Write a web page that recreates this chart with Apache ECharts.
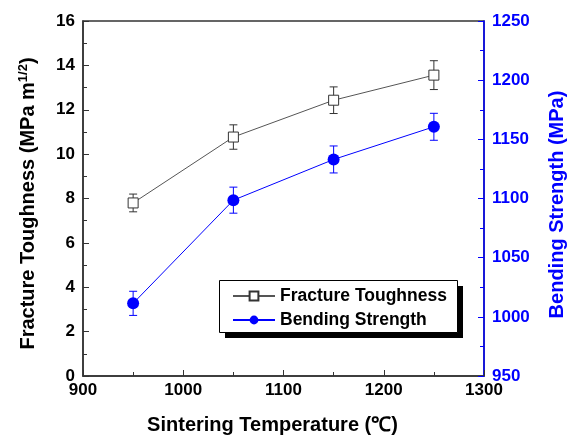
<!DOCTYPE html>
<html>
<head>
<meta charset="utf-8">
<script src="https://cdn.jsdelivr.net/npm/echarts@6/dist/echarts.min.js"></script>
<style>
html,body{margin:0;padding:0;background:#fff;}
#main{width:569px;height:438px;}
</style>
</head>
<body>
<div id="main"></div>
<script>
// sintering temperature (℃)
var temps = [950, 1050, 1150, 1250];
// fracture toughness (MPa m^1/2) and its error
var toughness = [7.8, 10.77, 12.43, 13.56];
var toughErr = [0.4, 0.55, 0.6, 0.65];
// bending strength (MPa) and its error
var strength = [1011.4, 1098.6, 1133, 1160.6];
var strengthErr = [10.2, 11, 11.4, 11.4];

var chart = echarts.init(document.getElementById('main'));

function pairs(xs, ys) {
    return xs.map(function (x, i) { return [x, ys[i]]; });
}
function errData(xs, ys, es) {
    return xs.map(function (x, i) { return [x, ys[i] - es[i], ys[i] + es[i]]; });
}
function errBar(color) {
    return function (params, api) {
        var top = api.coord([api.value(0), api.value(2)]);
        var bot = api.coord([api.value(0), api.value(1)]);
        var w = 4;
        var st = { stroke: color, lineWidth: 1 };
        return {
            type: 'group',
            children: [
                { type: 'line', shape: { x1: top[0], y1: top[1], x2: bot[0], y2: bot[1] }, style: st },
                { type: 'line', shape: { x1: top[0] - w, y1: top[1], x2: top[0] + w, y2: top[1] }, style: st },
                { type: 'line', shape: { x1: bot[0] - w, y1: bot[1], x2: bot[0] + w, y2: bot[1] }, style: st }
            ]
        };
    };
}
function plain(v) { return String(v); }

var font = 'Liberation Sans, Arial, sans-serif';
var blue = '#0000ff';

chart.setOption({
    animation: false,
    grid: {
        left: 83, right: 85, top: 21, bottom: 62,
        outerBoundsMode: 'none',
        show: true, borderColor: '#333', borderWidth: 1.5
    },
    // legend frame with the solid drop shadow
    graphic: [
        { type: 'rect', left: 225, top: 286, shape: { width: 238, height: 52 }, style: { fill: '#000' }, z: 5 },
        { type: 'rect', left: 219, top: 280, shape: { width: 238, height: 52 }, style: { fill: '#fff', stroke: '#000', lineWidth: 1 }, z: 6 }
    ],
    legend: {
        left: 232, top: 287,
        orient: 'vertical',
        itemWidth: 42, itemHeight: 11, itemGap: 6,
        padding: 0,
        z: 10,
        textStyle: { fontFamily: font, fontWeight: 'bold', fontSize: 17.5, color: '#000' },
        data: ['Fracture Toughness', 'Bending Strength']
    },
    xAxis: {
        type: 'value', min: 900, max: 1300, interval: 100,
        name: 'Sintering Temperature (℃)',
        nameLocation: 'middle', nameGap: 39,
        nameTextStyle: { fontFamily: font, fontWeight: 'bold', fontSize: 20, color: '#000', padding: [0, 22, 0, 0] },
        axisLine: { lineStyle: { color: '#333', width: 1.5 } },
        axisTick: { inside: true, length: 6, lineStyle: { color: '#333' } },
        minorTick: { show: true, splitNumber: 2, length: 4, lineStyle: { color: '#333' } },
        splitLine: { show: false },
        axisLabel: { fontFamily: font, fontWeight: 'bold', fontSize: 17, color: '#000', margin: 6, formatter: plain }
    },
    yAxis: [{
        type: 'value', min: 0, max: 16, interval: 2,
        name: '{a|Fracture Toughness (MPa m}{s|1/2}{a|)}',
        nameLocation: 'middle', nameGap: 43, nameRotate: 90,
        nameTextStyle: {
            padding: [0, 10, 0, 0],
            rich: {
                a: { fontFamily: font, fontWeight: 'bold', fontSize: 20, color: '#000' },
                s: { fontFamily: font, fontWeight: 'bold', fontSize: 13, color: '#000', verticalAlign: 'top', padding: [0, 0, 10, 0] }
            }
        },
        axisLine: { show: true, lineStyle: { color: '#333', width: 1.5 } },
        axisTick: { show: true, inside: true, length: 6, lineStyle: { color: '#333' } },
        minorTick: { show: true, splitNumber: 2, length: 4, lineStyle: { color: '#333' } },
        splitLine: { show: false },
        axisLabel: { fontFamily: font, fontWeight: 'bold', fontSize: 17, color: '#000', margin: 8, formatter: plain }
    }, {
        type: 'value', min: 950, max: 1250, interval: 50, position: 'right',
        name: 'Bending Strength (MPa)',
        nameLocation: 'middle', nameGap: 63, nameRotate: 90,
        nameTextStyle: { fontFamily: font, fontWeight: 'bold', fontSize: 20, color: blue, padding: [0, 12, 0, 0] },
        axisLine: { show: true, lineStyle: { color: blue, width: 1.5 } },
        axisTick: { show: true, inside: true, length: 6, lineStyle: { color: blue } },
        minorTick: { show: true, splitNumber: 2, length: 4, lineStyle: { color: blue } },
        splitLine: { show: false },
        axisLabel: { fontFamily: font, fontWeight: 'bold', fontSize: 17, color: blue, margin: 8, formatter: plain }
    }],
    series: [{
        name: 'Fracture Toughness', type: 'line', yAxisIndex: 0,
        data: pairs(temps, toughness),
        symbol: 'rect', symbolSize: 10,
        itemStyle: { color: '#fff', borderColor: '#333', borderWidth: 1 },
        lineStyle: { color: '#555', width: 1 },
        z: 3
    }, {
        name: 'Bending Strength', type: 'line', yAxisIndex: 1,
        data: pairs(temps, strength),
        symbol: 'circle', symbolSize: 12,
        itemStyle: { color: blue },
        lineStyle: { color: blue, width: 1 },
        z: 3
    }, {
        type: 'custom', yAxisIndex: 0, z: 2, silent: true,
        data: errData(temps, toughness, toughErr),
        renderItem: errBar('#333')
    }, {
        type: 'custom', yAxisIndex: 1, z: 2, silent: true,
        data: errData(temps, strength, strengthErr),
        renderItem: errBar(blue)
    }]
});
</script>
</body>
</html>
